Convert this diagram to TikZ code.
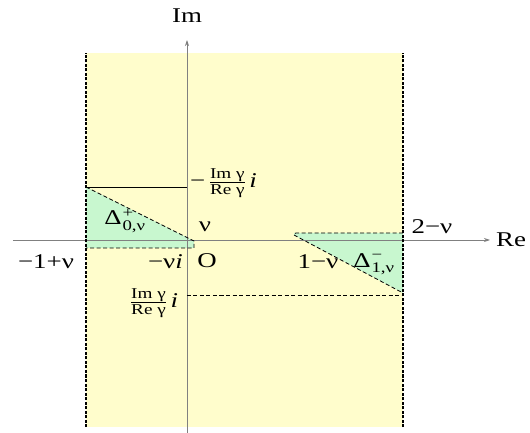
\documentclass[tikz,border=0pt]{standalone}
\usepackage{amsmath}
\usepackage{fontspec}
\setmainfont{Liberation Serif}
\newfontfamily\figfont[FakeStretch=1.28]{Liberation Serif}
\usetikzlibrary{arrows.meta}

\definecolor{stripyellow}{HTML}{FFFDCC}
\definecolor{regiongreen}{HTML}{C8F7CF}

% fraction Im gamma / Re gamma
\newcommand{\imre}{$\genfrac{}{}{0.6pt}{}{\text{\figfont\fontsize{15}{16}\selectfont Im γ}}{\text{\figfont\fontsize{15}{16}\selectfont Re γ}}$}

\begin{document}
\begin{tikzpicture}[
  x=1pt, y=1pt,
  every node/.style={font=\figfont\fontsize{21}{25}\selectfont, inner sep=1pt},
  strip/.style={fill=stripyellow, draw=none},
  border/.style={line width=1.1pt, dash pattern=on 3pt off 1.5pt},
  region/.style={fill=regiongreen, draw=none},
  dline/.style={line width=0.8pt, dash pattern=on 4pt off 2.5pt},
  axis/.style={draw=gray, line width=0.9pt, -{Stealth[length=6pt, width=4pt, fill=black]}}
]
\useasboundingbox (-187,-192) rectangle (343,241);

% strip -1+nu <= Re <= 2-nu
\coordinate (stripBL) at (-101,-186);
\coordinate (stripTR) at (216,188);
\fill[strip] (stripBL) rectangle (stripTR);

% green regions
\coordinate (lt) at (-101,54);
\coordinate (ltip) at (7,0);
\coordinate (lb) at (-101,-7);
\coordinate (lbr) at (7,-7);
\fill[region] (lt) -- (ltip) -- (lbr) -- (lb) -- cycle;
\coordinate (rl) at (107,6);
\coordinate (rt) at (216,8);
\coordinate (rb) at (216,-52);
\fill[region] (rl) -- (107,8) -- (rt) -- (rb) -- cycle;

% axes
\coordinate (xstart) at (-174,1);
\coordinate (xend) at (303,1);
\coordinate (ystart) at (0,-192);
\coordinate (yend) at (0,201);
\draw[axis] (xstart) -- (xend);
\draw[axis] (ystart) -- (yend);
\node[anchor=west] (re) at (308,1) {Re};
\node (im) at (0,225) {Im};

% strip borders
\draw[border] (stripBL) -- (-101,188);
\draw[border] (216,-186) -- (stripTR);

% region outlines
\coordinate (ltop) at (0,54);
\draw[line width=0.8pt] (lt) -- (ltop);
\draw[dline] (lt) -- (ltip) -- (lbr) -- (lb);
\draw[dline] (rl) -- (rb);
\draw[dline, rounded corners=2pt] (rt) -- (107,8) -- (rl);
\coordinate (bstart) at (0,-54);
\draw[dline] (bstart) -- (216,-54);

% labels
\node[anchor=west] (mfrac) at (2,58) {−\,\imre\,\textit{i}};
\node (nu) at (18,14) {ν};
\node (orig) at (20,-20) {O};
\node[anchor=east] (mnui) at (-3,-21) {−ν\textit{i}};
\node (lend) at (-141,-21) {−1+ν};
\node (onemnu) at (131,-21) {1−ν};
\node (twomnu) at (245,14) {2−ν};
\node (pfrac) at (-33,-62) {\imre\,\textit{i}};
\node (dzero) at (-62,20) {Δ\kern1pt$^{\text{+}}_{\text{0,ν}}$};
\node (done) at (187,-23) {Δ\kern1pt$^{\text{−}}_{\text{1,ν}}$};
\end{tikzpicture}
\end{document}
